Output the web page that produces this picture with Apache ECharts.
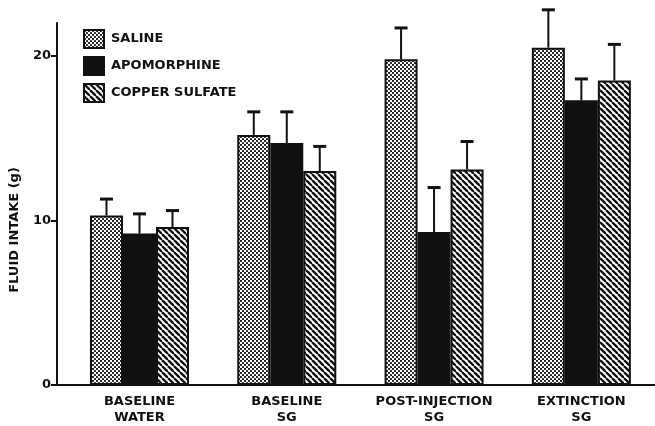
<!DOCTYPE html>
<html>
<head>
<meta charset="utf-8">
<script src="https://cdn.jsdelivr.net/npm/echarts@6/dist/echarts.min.js"></script>
<style>
  html, body { margin: 0; padding: 0; background: #fff; }
  #chart { width: 655px; height: 426px; }
</style>
</head>
<body>
<div id="chart"></div>
<script>
const categories = ['BASELINE\nWATER', 'BASELINE\nSG', 'POST-INJECTION\nSG', 'EXTINCTION\nSG'];
const seriesNames = ['SALINE', 'APOMORPHINE', 'COPPER SULFATE'];
const saline = [10.3, 15.2, 19.8, 20.5];
const salineErr = [1.0, 1.4, 1.9, 2.3];
const apomorphine = [9.2, 14.7, 9.3, 17.3];
const apomorphineErr = [1.2, 1.9, 2.7, 1.3];
const copper = [9.6, 13.0, 13.1, 18.5];
const copperErr = [1.0, 1.5, 1.7, 2.2];
const yTicks = [0, 10, 20];

const values = [saline, apomorphine, copper];
const errors = [salineErr, apomorphineErr, copperErr];
const catIndex = categories.map((c, i) => i);
const FONT = 'DejaVu Sans';

// fill patterns like the printed figure
function dotPattern() {
  const c = document.createElement('canvas');
  c.width = 4; c.height = 4;
  const ctx = c.getContext('2d');
  ctx.fillStyle = '#fff';
  ctx.fillRect(0, 0, 4, 4);
  ctx.fillStyle = '#111';
  ctx.beginPath(); ctx.arc(1, 1, 1.1, 0, Math.PI * 2); ctx.fill();
  ctx.beginPath(); ctx.arc(3, 3, 1.1, 0, Math.PI * 2); ctx.fill();
  return { image: c, repeat: 'repeat' };
}

function hatchPattern() {
  const s = 6;
  const c = document.createElement('canvas');
  c.width = s; c.height = s;
  const ctx = c.getContext('2d');
  ctx.fillStyle = '#fff';
  ctx.fillRect(0, 0, s, s);
  ctx.strokeStyle = '#111';
  ctx.lineWidth = 2.3;
  for (let k = -1; k <= 1; k++) {
    ctx.beginPath();
    ctx.moveTo(k * s, 0);
    ctx.lineTo(k * s + s, s);
    ctx.stroke();
  }
  return { image: c, repeat: 'repeat' };
}

const fills = [dotPattern(), '#111', hatchPattern()];
const BAR_W = 33;

const errData = [];
values.forEach((arr, si) => {
  arr.forEach((v, ci) => errData.push([ci, si, v, v + errors[si][ci]]));
});

const chart = echarts.init(document.getElementById('chart'));

const barSeries = seriesNames.map((name, i) => ({
  name,
  type: 'bar',
  data: values[i].map((v, ci) => [ci, v]),
  barWidth: BAR_W,
  barGap: '0%',
  itemStyle: { color: fills[i], borderColor: '#111', borderWidth: 2 },
  emphasis: { disabled: true },
  z: 2,
}));

const errorSeries = {
  type: 'custom',
  clip: false,
  silent: true,
  z: 3,
  data: errData,
  encode: { x: 0, y: 3 },
  renderItem: (params, api) => {
    const ci = api.value(0);
    const si = api.value(1);
    const base = api.coord([ci, api.value(2)]);
    const top = api.coord([ci, api.value(3)]);
    const x = base[0] + (si - 1) * BAR_W;
    const half = 6.5;
    return {
      type: 'group',
      children: [
        {
          type: 'line',
          shape: { x1: x, y1: base[1], x2: x, y2: top[1] },
          style: { stroke: '#111', lineWidth: 2 },
        },
        {
          type: 'line',
          shape: { x1: x - half, y1: top[1], x2: x + half, y2: top[1] },
          style: { stroke: '#111', lineWidth: 3 },
        },
      ],
    };
  },
};

const option = {
  animation: false,
  backgroundColor: '#fff',
  textStyle: { fontFamily: FONT, fontWeight: 'bold', color: '#111' },
  grid: { left: 57, right: 0, top: 23, bottom: 40 },
  legend: {
    data: seriesNames,
    orient: 'vertical',
    left: 83,
    top: 29,
    padding: 0,
    itemWidth: 20,
    itemHeight: 18,
    itemGap: 7,
    icon: 'rect',
    selectedMode: false,
    textStyle: { fontFamily: FONT, fontWeight: 'bold', fontSize: 13, color: '#111', padding: [0, 0, 0, 2] },
  },
  xAxis: {
    type: 'value',
    min: -0.56,
    max: 3.5,
    splitLine: { show: false },
    axisLine: { show: true, onZero: false, lineStyle: { color: '#111', width: 2 } },
    axisTick: { show: false },
    axisLabel: {
      customValues: catIndex,
      formatter: (v) => categories[Math.round(v)] || '',
      color: '#111',
      fontFamily: FONT,
      fontWeight: 'bold',
      fontSize: 13,
      lineHeight: 16,
      margin: 9,
    },
  },
  yAxis: {
    type: 'value',
    min: 0,
    max: 22,
    interval: 10,
    name: 'FLUID INTAKE (g)',
    nameLocation: 'middle',
    nameGap: 36,
    nameTextStyle: {
      color: '#111',
      fontFamily: FONT,
      fontWeight: 'bold',
      fontSize: 13,
      padding: [0, 52, 0, 0],
    },
    axisLine: { show: true, onZero: false, lineStyle: { color: '#111', width: 2 } },
    axisTick: { show: true, length: 6, customValues: yTicks, lineStyle: { color: '#111', width: 2 } },
    axisLabel: {
      customValues: yTicks,
      color: '#111',
      fontFamily: FONT,
      fontWeight: 'bold',
      fontSize: 13,
      margin: 6,
    },
    splitLine: { show: false },
  },
  series: [...barSeries, errorSeries],
};

chart.setOption(option);
</script>
</body>
</html>
